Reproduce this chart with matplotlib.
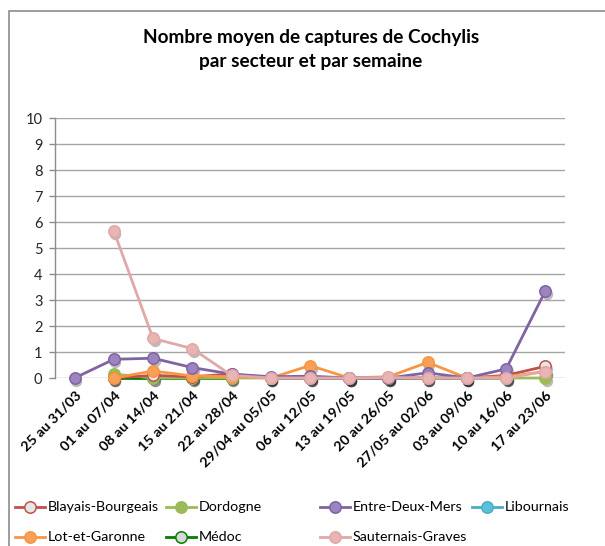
import numpy as np
import matplotlib
matplotlib.use("Agg")
import matplotlib.pyplot as plt
from matplotlib.lines import Line2D
from matplotlib.patches import Rectangle
import matplotlib.transforms as mtransforms

plt.rcParams['font.family'] = ['Lato', 'DejaVu Sans']

weeks = ["25 au 31/03", "01 au 07/04", "08 au 14/04", "15 au 21/04", "22 au 28/04",
         "29/04 au 05/05", "06 au 12/05", "13 au 19/05", "20 au 26/05", "27/05 au 02/06",
         "03 au 09/06", "10 au 16/06", "17 au 23/06"]
nan = np.nan
blayais = [nan, 0, 0.1, 0.05, 0.15, 0, 0, 0, 0, 0, 0, 0.1, 0.45]
dordogne = [nan, 0.15, 0, 0, 0, 0, 0, 0, 0, 0, 0, 0, 0]
entre_deux_mers = [0, 0.72, 0.76, 0.4, 0.15, 0.05, 0.07, 0, 0, 0.2, 0, 0.35, 3.35]
libournais = [nan, nan, nan, nan, nan, 0, 0, 0, 0, 0, 0, 0, nan]
lot_et_garonne = [nan, 0, 0.27, 0.08, 0.05, 0, 0.48, 0, 0.05, 0.6, 0, 0.05, 0.25]
medoc = [nan, 0, 0, 0, 0, nan, nan, nan, nan, nan, nan, nan, nan]
sauternais = [nan, 5.65, 1.52, 1.13, 0.1, 0, 0, 0, 0.02, 0, 0, 0, 0.25]

series = [
    ("Blayais-Bourgeais", blayais, "#C0504D", "#E6E6E6"),
    ("Dordogne", dordogne, "#9BBB59", "#9BBB59"),
    ("Entre-Deux-Mers", entre_deux_mers, "#8064A2", "#9C84C0"),
    ("Libournais", libournais, "#4BACC6", "#5BC0DA"),
    ("Lot-et-Garonne", lot_et_garonne, "#F79646", "#F9A057"),
    ("Médoc", medoc, "#008000", "#D8D8D8"),
    ("Sauternais-Graves", sauternais, "#E0A8A8", "#E8B4B4"),
]
zorders = {"Libournais": 2, "Médoc": 3, "Dordogne": 4, "Blayais-Bourgeais": 5,
           "Lot-et-Garonne": 6, "Entre-Deux-Mers": 7, "Sauternais-Graves": 8}

W, H = 605, 546
fig = plt.figure(figsize=(W / 100, H / 100), dpi=100)

def fx(px):
    return px / W

def fy(py):
    return 1 - py / H

fig.add_artist(Rectangle((fx(8.5), fy(700)), fx(700), fy(10.5) - fy(700),
                         transform=fig.transFigure, fill=False,
                         edgecolor="#8C8C8C", linewidth=1.2))

ax = fig.add_axes([fx(55), fy(378), fx(565) - fx(55), fy(118) - fy(378)])
x = np.arange(len(weeks))

shadow = mtransforms.offset_copy(ax.transData, fig=fig, x=1.5, y=-3.0, units='dots')
for name, vals, col, face in series:
    v = np.array(vals, dtype=float)
    ax.plot(x, v, linestyle='none', marker='o', markersize=8.2,
            markerfacecolor='#202020', markeredgecolor='none', alpha=0.3,
            transform=shadow, zorder=1, clip_on=False)
for name, vals, col, face in series:
    v = np.array(vals, dtype=float)
    z = zorders[name]
    ax.plot(x, v, color=col, linewidth=2.0, marker='o', markersize=8.2,
            markerfacecolor=face, markeredgecolor=col, markeredgewidth=1.1,
            zorder=z, clip_on=False)

ax.set_xlim(-0.5, len(weeks) - 0.5)
ax.set_ylim(0, 10)
ax.set_yticks(range(0, 11))
ax.set_yticklabels([str(i) for i in range(0, 11)], fontsize=10.5, color="#262626")
ax.set_xticks(x)
ax.set_xticklabels(weeks, rotation=45, ha='right', rotation_mode='anchor',
                   fontsize=10.3, fontweight='bold', color="#000000")
ax.tick_params(axis='x', length=0, pad=8)
ax.tick_params(axis='y', length=4, width=1, color="#8C8C8C", pad=5)
ax.grid(axis='y', color="#A6A6A6", linewidth=1.0)
ax.set_axisbelow(True)
for s in ['top', 'right', 'bottom']:
    ax.spines[s].set_visible(False)
ax.spines['left'].set_color("#8C8C8C")
ax.spines['left'].set_linewidth(1.0)

fig.text(fx(311), fy(38), "Nombre moyen de captures de Cochylis", ha='center', va='center',
         fontsize=13.7, fontweight='bold')
fig.text(fx(311), fy(62), "par secteur et par semaine", ha='center', va='center',
         fontsize=13.7, fontweight='bold')

cols_x = [15, 166, 320, 472]
rows_y = [507, 537]
for i, (name, vals, col, face) in enumerate(series):
    r, c = divmod(i, 4)
    x0 = cols_x[c]
    y0 = rows_y[r]
    fig.add_artist(Line2D([fx(x0), fx(x0 + 30)], [fy(y0), fy(y0)], transform=fig.transFigure,
                          color=col, linewidth=2.0))
    fig.add_artist(Line2D([fx(x0 + 15)], [fy(y0)], transform=fig.transFigure,
                          marker='o', markersize=8.2, markerfacecolor=face,
                          markeredgecolor=col, markeredgewidth=1.1, linestyle='none'))
    fig.text(fx(x0 + 33), fy(y0), name, ha='left', va='center', fontsize=10.3, color="#000000")

fig.savefig("out.png", dpi=100)
